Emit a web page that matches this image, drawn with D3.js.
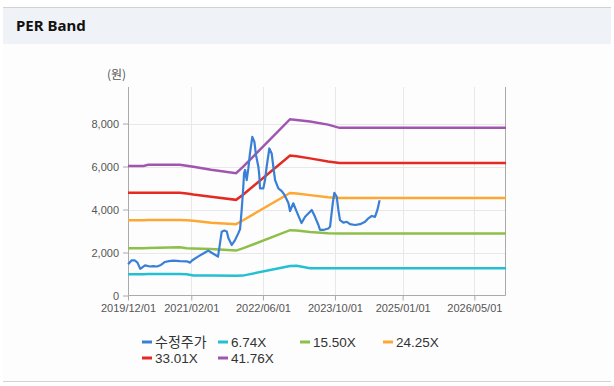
<!DOCTYPE html>
<html>
<head>
<meta charset="utf-8">
<script src="https://cdn.jsdelivr.net/npm/d3@7"></script>
<style>
  body { margin: 0; background: #fff; }
  svg { display: block; }
</style>
</head>
<body>
<div id="chart"></div>
<script>
// size of the page
var svgWidth = 614;
var svgHeight = 386;

// plot area
var plot = { left: 128, right: 506, top: 87, bottom: 295.5 };

// x axis ticks
var tickDates = ["2019-12-01", "2021-02-01", "2022-06-01", "2023-10-01", "2025-01-01", "2026-05-01"];
var tickLabels = ["2019/12/01", "2021/02/01", "2022/06/01", "2023/10/01", "2025/01/01", "2026/05/01"];
var yTicks = [0, 2000, 4000, 6000, 8000];

// adjusted share price (수정주가)
var priceDates = [
  "2019-12-02", "2019-12-26", "2020-01-17", "2020-02-03", "2020-02-22", "2020-03-25", "2020-04-28",
  "2020-05-20", "2020-06-14", "2020-07-11", "2020-08-07", "2020-09-03", "2020-10-02", "2020-11-17",
  "2021-01-01", "2021-01-24", "2021-02-06", "2021-03-21", "2021-05-05", "2021-05-27", "2021-06-19",
  "2021-07-23", "2021-08-01", "2021-08-26", "2021-09-13", "2021-09-29", "2021-10-10", "2021-11-02",
  "2021-11-24", "2021-12-16", "2021-12-28", "2022-01-08", "2022-01-19", "2022-01-24", "2022-01-31",
  "2022-02-11", "2022-02-22", "2022-03-05", "2022-03-21", "2022-04-04", "2022-04-15", "2022-04-24",
  "2022-05-01", "2022-05-07", "2022-05-12", "2022-06-03", "2022-06-15", "2022-06-26", "2022-07-14",
  "2022-07-30", "2022-08-10", "2022-08-22", "2022-09-13", "2022-10-06", "2022-10-21", "2022-11-07",
  "2022-11-20", "2022-12-01", "2022-12-23", "2023-01-15", "2023-02-17", "2023-03-13", "2023-04-27",
  "2023-05-19", "2023-06-11", "2023-06-22", "2023-07-14", "2023-08-17", "2023-08-29", "2023-09-16",
  "2023-09-27", "2023-10-13", "2023-10-24", "2023-11-04", "2023-11-27", "2023-12-20", "2024-01-11",
  "2024-02-14", "2024-03-19", "2024-04-22", "2024-05-14", "2024-06-06", "2024-06-28", "2024-07-14",
  "2024-07-29"
];
var priceValues = [
  1450, 1640, 1630, 1530, 1240, 1400, 1350,
  1370, 1350, 1420, 1560, 1600, 1620, 1600,
  1590, 1530, 1630, 1820, 2000, 2090, 1990,
  1850, 1810, 2970, 3020, 2980, 2670, 2350,
  2580, 2890, 3090, 3980, 5060, 5680, 5840,
  5370, 5910, 6610, 7380, 7150, 6530, 6220,
  5990, 5600, 4980, 4980, 5370, 5990, 6840,
  6610, 5990, 5370, 4980, 4860, 4720, 4490,
  4300, 3930, 4290, 3900, 3370, 3660, 3980,
  3660, 3280, 3050, 3050, 3120, 3200, 4290,
  4780, 4590, 3980, 3510, 3390, 3430, 3320,
  3280, 3320, 3430, 3590, 3700, 3660, 3980,
  4430
];

// PER band lines
var bandDates = [
  "2019-12-01", "2020-03-15", "2020-04-15", "2020-11-15", "2021-01-01", "2021-02-15", "2021-06-15",
  "2021-12-01", "2022-01-15", "2022-12-01", "2023-01-15", "2023-04-15", "2023-08-15", "2023-11-01",
  "2026-12-01"
];
var band674 = [990, 990, 995, 995, 990, 930, 925, 920, 925, 1370, 1380, 1270, 1270, 1270, 1270];
var band1550 = [2200, 2200, 2210, 2240, 2200, 2190, 2160, 2090, 2190, 3040, 3020, 2950, 2900, 2890, 2890];
var band2425 = [3500, 3500, 3510, 3510, 3500, 3480, 3390, 3320, 3490, 4770, 4750, 4670, 4570, 4540, 4540];
var band3301 = [4780, 4780, 4780, 4780, 4750, 4700, 4590, 4450, 4680, 6510, 6480, 6380, 6230, 6170, 6170];
var band4176 = [6030, 6030, 6080, 6080, 6040, 5990, 5850, 5690, 5970, 8200, 8170, 8090, 7950, 7800, 7800];

var seriesNames = ["수정주가", "6.74X", "15.50X", "24.25X", "33.01X", "41.76X"];
var seriesColors = ["#3a7fd6", "#22c0d2", "#8dbf4a", "#ffa733", "#e42a22", "#a056b0"];

var parseDate = d3.timeParse("%Y-%m-%d");

var svg = d3.select("#chart")
  .append("svg")
  .attr("width", svgWidth)
  .attr("height", svgHeight);

// panel background + header
svg.append("rect")
  .attr("x", 3).attr("y", 8).attr("width", 608).attr("height", 373)
  .attr("fill", "#fdfdfd");
svg.append("rect")
  .attr("x", 3).attr("y", 8).attr("width", 608).attr("height", 36)
  .attr("fill", "#eff2f7");
svg.append("line")
  .attr("x1", 3).attr("x2", 611).attr("y1", 7.5).attr("y2", 7.5)
  .attr("stroke", "#d2d2d2");
svg.append("line")
  .attr("x1", 3).attr("x2", 611).attr("y1", 381.5).attr("y2", 381.5)
  .attr("stroke", "#d2d2d2");
svg.append("text")
  .attr("x", 16).attr("y", 31)
  .attr("font-family", "'Noto Sans', sans-serif")
  .attr("font-size", "15px")
  .attr("font-weight", "bold")
  .attr("fill", "#111")
  .text("PER Band");

// scales
var xScale = d3.scaleTime()
  .domain([parseDate("2019-12-01"), parseDate("2026-12-01")])
  .range([plot.left, plot.right]);

var yScale = d3.scaleLinear()
  .domain([0, 9700])
  .range([plot.bottom, plot.top]);

// grid lines
var grid = svg.append("g").attr("stroke", "#e8e8e8").attr("stroke-width", 1);
grid.selectAll(".gy")
  .data(yTicks.slice(1))
  .enter().append("line")
  .attr("x1", plot.left).attr("x2", plot.right)
  .attr("y1", d => Math.round(yScale(d)) + 0.5)
  .attr("y2", d => Math.round(yScale(d)) + 0.5);
grid.selectAll(".gx")
  .data(tickDates.slice(1))
  .enter().append("line")
  .attr("x1", d => Math.round(xScale(parseDate(d))) + 0.5)
  .attr("x2", d => Math.round(xScale(parseDate(d))) + 0.5)
  .attr("y1", plot.top).attr("y2", plot.bottom);

// axes
var xAxis = d3.axisBottom(xScale)
  .tickValues(tickDates.map(parseDate))
  .tickFormat((d, i) => tickLabels[i])
  .tickSize(5)
  .tickPadding(4);

var yAxis = d3.axisLeft(yScale)
  .tickValues(yTicks)
  .tickFormat(d3.format(","))
  .tickSize(5)
  .tickPadding(4);

var gx = svg.append("g")
  .attr("transform", `translate(0, ${plot.bottom})`)
  .call(xAxis);
var gy = svg.append("g")
  .attr("transform", `translate(${plot.left}, 0)`)
  .call(yAxis);

[gx, gy].forEach(function(g) {
  g.select(".domain").remove();
  g.selectAll(".tick line").attr("stroke", "#aaa");
  g.selectAll(".tick text")
    .attr("font-family", "'Liberation Sans', Arial, sans-serif")
    .attr("font-size", "11px")
    .attr("fill", "#555");
});

// plot frame (left, bottom, right)
svg.append("path")
  .attr("d", `M${plot.left + 0.5},${plot.top} V${plot.bottom} H${plot.right - 0.5} V${plot.top}`)
  .attr("fill", "none")
  .attr("stroke", "#aaa");

// unit label
svg.append("text")
  .attr("x", 107).attr("y", 79)
  .attr("font-family", "'Noto Sans CJK KR', sans-serif")
  .attr("font-size", "12px")
  .attr("fill", "#555")
  .text("(원)");

// lines
var line = d3.line()
  .x(d => xScale(d.date))
  .y(d => yScale(d.value));

var bands = [band674, band1550, band2425, band3301, band4176];
var bandDatesParsed = bandDates.map(parseDate);

bands.forEach(function(vals, i) {
  var rows = vals.map((v, j) => ({ date: bandDatesParsed[j], value: v }));
  svg.append("path")
    .datum(rows)
    .attr("fill", "none")
    .attr("stroke", seriesColors[i + 1])
    .attr("stroke-width", 2.5)
    .attr("d", line);
});

var priceRows = priceValues.map((v, j) => ({ date: parseDate(priceDates[j]), value: v }));
svg.append("path")
  .datum(priceRows)
  .attr("fill", "none")
  .attr("stroke", seriesColors[0])
  .attr("stroke-width", 2.2)
  .attr("stroke-linejoin", "round")
  .attr("d", line);

// legend
var legendPos = [[142, 342], [218, 342], [300, 342], [383, 342], [142, 358], [218, 358]];
var legend = svg.append("g");
seriesNames.forEach(function(name, i) {
  var g = legend.append("g")
    .attr("transform", `translate(${legendPos[i][0]}, ${legendPos[i][1]})`);
  g.append("line")
    .attr("x1", 0).attr("x2", 10).attr("y1", 0).attr("y2", 0)
    .attr("stroke", seriesColors[i])
    .attr("stroke-width", 3);
  g.append("text")
    .attr("x", 13).attr("y", 5)
    .attr("font-family", i === 0 ? "'Noto Sans CJK KR', sans-serif" : "'Liberation Sans', Arial, sans-serif")
    .attr("font-size", i === 0 ? "14px" : "13.5px")
    .attr("fill", "#333")
    .text(name);
});
</script>
</body>
</html>
